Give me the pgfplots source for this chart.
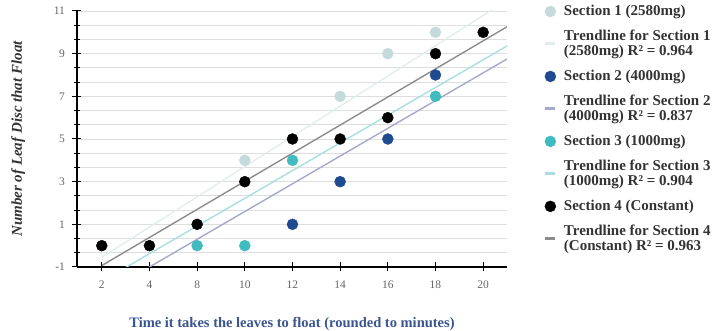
\documentclass[border=0pt]{standalone}
\usepackage{fontspec}
\setmainfont{Liberation Serif}
\usepackage{pgfplots}
\pgfplotsset{compat=1.18}
\definecolor{cA}{HTML}{C5DADB}
\definecolor{tA}{HTML}{E2EDED}
\definecolor{cB}{HTML}{1F4A8F}
\definecolor{tB}{HTML}{A4A9CC}
\definecolor{cC}{HTML}{40BCC0}
\definecolor{tC}{HTML}{A9DEE1}
\definecolor{cD}{HTML}{000000}
\definecolor{tD}{HTML}{8C8C8C}
\definecolor{txt}{HTML}{333333}
\definecolor{xlab}{HTML}{3A5590}
\begin{document}
\begin{tikzpicture}
\path[use as bounding box] (-77pt,-64pt) rectangle (641pt,267pt);
\begin{axis}[
  at={(0pt,0pt)}, anchor=south west,
  scale only axis, width=430pt, height=256pt,
  xmin=-0.52, xmax=8.5, ymin=-1, ymax=11,
  axis x line=bottom, axis y line=left,
  axis line style={-, line width=1.1pt, black},
  xtick={0,...,8}, xticklabels={2,4,8,10,12,14,16,18,20},
  ytick={-1,1,3,5,7,9,11},
  minor y tick num=2,
  tick align=center,
  major tick length=9pt, minor tick length=6pt,
  tick style={black, line width=1pt},
  ymajorgrids, yminorgrids,
  major grid style={draw=black!13, line width=0.9pt},
  minor grid style={draw=black!13, line width=0.9pt},
  /pgf/number format/assume math mode=true,
  ticklabel style={font=\fontsize{11.5}{12}\selectfont, text=black!60},
  xticklabel style={yshift=-6pt},
  yticklabel style={xshift=-4pt},
  xlabel={Time it takes the leaves to float (rounded to minutes)},
  xlabel style={font=\fontsize{14.5}{15}\selectfont\bfseries, text=xlab, yshift=-22pt},
  ylabel={Number of Leaf Disc that Float},
  ylabel style={font=\fontsize{15}{16}\selectfont\bfseries\itshape, text=txt, yshift=22pt},
  legend style={at={(rel axis cs:1.085,1.03)}, anchor=north west, draw=none, fill=none,
    font=\fontsize{15}{15}\selectfont\bfseries, text=txt,
    cells={align=left, anchor=west}, row sep=9pt, column sep=5pt, inner sep=0pt},
  legend cell align=left,
]
% trendlines
\addplot[forget plot, tA, line width=1.4pt] coordinates {(0,-0.55) (8.5,11.5)};
\addplot[forget plot, tB, line width=1.4pt] coordinates {(0,-2.30) (8.5,8.75)};
\addplot[forget plot, tC, line width=1.4pt] coordinates {(0,-1.675) (8.5,9.36)};
\addplot[forget plot, tD, line width=1.4pt] coordinates {(0,-0.933) (8.5,10.26)};
% Section 1
\addplot[forget plot, only marks, mark=*, mark size=5.5pt, color=cA] coordinates {(3,4) (5,7) (6,9) (7,10)};
% Section 2
\addplot[forget plot, only marks, mark=*, mark size=5.5pt, color=cB] coordinates {(4,1) (5,3) (6,5) (7,8)};
% Section 3
\addplot[forget plot, only marks, mark=*, mark size=5.5pt, color=cC] coordinates {(2,0) (3,0) (4,4) (7,7)};
% Section 4
\addplot[forget plot, only marks, mark=*, mark size=5.5pt, color=cD] coordinates {(0,0) (1,0) (2,1) (3,3) (4,5) (5,5) (6,6) (7,9) (8,10)};
% legend
\addlegendimage{only marks, mark=*, mark size=5.5pt, color=cA}
\addlegendentry{Section 1 (2580mg)}
\addlegendimage{color=tA, line width=3pt, legend image code/.code={\draw (0.12cm,0cm) -- (0.48cm,0cm);}}
\addlegendentry{Trendline for Section 1\\(2580mg) R² = 0.964}
\addlegendimage{only marks, mark=*, mark size=5.5pt, color=cB}
\addlegendentry{Section 2 (4000mg)}
\addlegendimage{color=tB, line width=3pt, legend image code/.code={\draw (0.12cm,0cm) -- (0.48cm,0cm);}}
\addlegendentry{Trendline for Section 2\\(4000mg) R² = 0.837}
\addlegendimage{only marks, mark=*, mark size=5.5pt, color=cC}
\addlegendentry{Section 3 (1000mg)}
\addlegendimage{color=tC, line width=3pt, legend image code/.code={\draw (0.12cm,0cm) -- (0.48cm,0cm);}}
\addlegendentry{Trendline for Section 3\\(1000mg) R² = 0.904}
\addlegendimage{only marks, mark=*, mark size=5.5pt, color=cD}
\addlegendentry{Section 4 (Constant)}
\addlegendimage{color=tD, line width=3pt, legend image code/.code={\draw (0.12cm,0cm) -- (0.48cm,0cm);}}
\addlegendentry{Trendline for Section 4\\(Constant) R² = 0.963}
\end{axis}
\end{tikzpicture}
\end{document}
